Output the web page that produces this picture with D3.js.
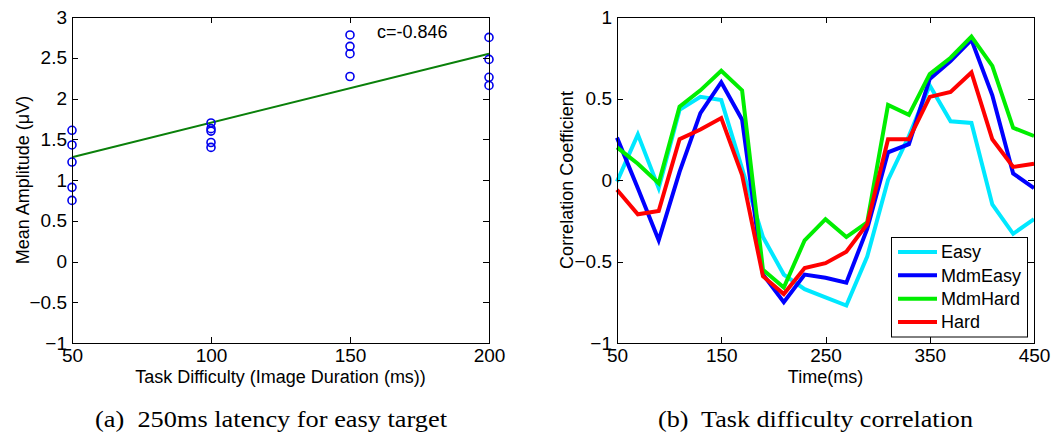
<!DOCTYPE html>
<html>
<head>
<meta charset="utf-8">
<script src="https://cdn.jsdelivr.net/npm/d3@7"></script>
<style>
  html, body { margin: 0; padding: 0; background: #fff; }
  svg { display: block; }
  .axis text { font-family: "Liberation Sans", Arial, sans-serif; font-size: 19px; fill: #000; }
  .axis path, .axis line { stroke: #000; stroke-width: 1; shape-rendering: crispEdges; }
  .label { font-family: "Liberation Sans", Arial, sans-serif; font-size: 18px; fill: #000; }
  .caption { font-family: "Liberation Serif", "Times New Roman", serif; font-size: 23px; fill: #000; }
</style>
</head>
<body>
<svg id="fig" width="1053" height="433"></svg>
<script>
// ---- Panel (a): mean amplitude versus image duration ----
const amplitudeX = [50, 50, 50, 50, 50,
                    100, 100, 100, 100, 100,
                    150, 150, 150, 150,
                    200, 200, 200, 200];
const amplitudeY = [1.61, 1.43, 1.22, 0.91, 0.75,
                    1.70, 1.63, 1.60, 1.46, 1.40,
                    2.78, 2.64, 2.55, 2.27,
                    2.75, 2.48, 2.26, 2.16];
const fitX = [50, 200];
const fitY = [1.28, 2.55];
const durationTicks = [50, 100, 150, 200];
const amplitudeTicks = [-1, -0.5, 0, 0.5, 1, 1.5, 2, 2.5, 3];
const correlationNote = "c=-0.846";

// ---- Panel (b): correlation coefficient over time ----
const timeMs = [50, 70, 90, 110, 130, 150, 170, 190, 210, 230, 250,
                270, 290, 310, 330, 350, 370, 390, 410, 430, 450];
const easy     = [-0.01, 0.28, -0.05, 0.43, 0.51, 0.49, 0.07, -0.35, -0.58, -0.67, -0.72,
                  -0.77, -0.47, 0.00, 0.27, 0.58, 0.36, 0.35, -0.15, -0.33, -0.24];
const mdmEasy  = [0.26, -0.05, -0.37, 0.05, 0.41, 0.60, 0.37, -0.58, -0.75, -0.58, -0.60,
                  -0.63, -0.30, 0.17, 0.22, 0.62, 0.73, 0.86, 0.52, 0.04, -0.05];
const mdmHard  = [0.20, 0.10, -0.02, 0.45, 0.55, 0.67, 0.55, -0.55, -0.66, -0.37, -0.24,
                  -0.35, -0.26, 0.46, 0.40, 0.65, 0.75, 0.88, 0.70, 0.32, 0.27];
const hard     = [-0.06, -0.21, -0.19, 0.25, 0.31, 0.38, 0.03, -0.59, -0.70, -0.54, -0.51,
                  -0.44, -0.27, 0.25, 0.25, 0.51, 0.54, 0.66, 0.25, 0.08, 0.10];
const seriesNames = ["Easy", "MdmEasy", "MdmHard", "Hard"];
const seriesColors = ["#00e8ff", "#0000ff", "#00ee00", "#ff0000"];
const timeTicks = [50, 150, 250, 350, 450];
const corrTicks = [-1, -0.5, 0, 0.5, 1];

const svg = d3.select("#fig");
const TICK = 6;

function drawBox(g, x, y, xTicks, yTicks) {
  const [x0, x1] = x.range();
  const [y1, y0] = y.range();
  g.append("g").attr("class", "axis")
    .attr("transform", `translate(0,${y1})`)
    .call(d3.axisBottom(x).tickValues(xTicks).tickSizeInner(-TICK).tickSizeOuter(0)
      .tickPadding(6).tickFormat(d3.format("d")));
  g.append("g").attr("class", "axis")
    .attr("transform", `translate(0,${y0})`)
    .call(d3.axisTop(x).tickValues(xTicks).tickSizeInner(-TICK).tickSizeOuter(0).tickFormat(""));
  g.append("g").attr("class", "axis")
    .attr("transform", `translate(${x0},0)`)
    .call(d3.axisLeft(y).tickValues(yTicks).tickSizeInner(-TICK).tickSizeOuter(0)
      .tickPadding(5).tickFormat(d3.format("")));
  g.append("g").attr("class", "axis")
    .attr("transform", `translate(${x1},0)`)
    .call(d3.axisRight(y).tickValues(yTicks).tickSizeInner(-TICK).tickSizeOuter(0).tickFormat(""));
}

// ---- Panel (a) ----
{
  const g = svg.append("g");
  const x = d3.scaleLinear().domain([50, 200]).range([72, 489]);
  const y = d3.scaleLinear().domain([-1, 3]).range([343, 17]);

  g.append("rect").attr("x", 72).attr("y", 17).attr("width", 417).attr("height", 326).attr("fill", "#fff");

  g.append("path")
    .datum(fitX.map((v, i) => [v, fitY[i]]))
    .attr("fill", "none").attr("stroke", "#0a800a").attr("stroke-width", 2)
    .attr("d", d3.line().x(d => x(d[0])).y(d => y(d[1])));

  g.selectAll("circle.pt")
    .data(amplitudeX.map((v, i) => [v, amplitudeY[i]]))
    .join("circle").attr("class", "pt")
    .attr("cx", d => x(d[0])).attr("cy", d => y(d[1])).attr("r", 4)
    .attr("fill", "none").attr("stroke", "#0000ee").attr("stroke-width", 1.6);

  drawBox(g, x, y, durationTicks, amplitudeTicks);

  g.append("text").attr("class", "label").attr("x", 377).attr("y", 38).text(correlationNote);

  g.append("text").attr("class", "label")
    .attr("x", x(125)).attr("y", 383).attr("text-anchor", "middle")
    .text("Task Difficulty (Image Duration (ms))");
  g.append("text").attr("class", "label")
    .attr("transform", `translate(29,${y(1)}) rotate(-90)`).attr("text-anchor", "middle")
    .text("Mean Amplitude (μV)");

  g.append("text").attr("class", "caption")
    .attr("x", 95).attr("y", 427)
    .attr("textLength", 352).attr("lengthAdjust", "spacingAndGlyphs")
    .attr("xml:space", "preserve")
    .text("(a)  250ms latency for easy target");
}

// ---- Panel (b) ----
{
  const g = svg.append("g");
  const x = d3.scaleLinear().domain([50, 450]).range([617, 1034]);
  const y = d3.scaleLinear().domain([-1, 1]).range([343, 17]);
  const values = [easy, mdmEasy, mdmHard, hard];

  const line = d3.line().x((d, i) => x(timeMs[i])).y(d => y(d));
  g.selectAll("path.series")
    .data(values)
    .join("path").attr("class", "series")
    .attr("fill", "none")
    .attr("stroke", (d, i) => seriesColors[i])
    .attr("stroke-width", 4)
    .attr("stroke-linejoin", "miter")
    .attr("d", line);

  drawBox(g, x, y, timeTicks, corrTicks);

  g.append("text").attr("class", "label")
    .attr("x", x(250)).attr("y", 383).attr("text-anchor", "middle")
    .text("Time(ms)");
  g.append("text").attr("class", "label")
    .attr("transform", `translate(573,${y(0)}) rotate(-90)`).attr("text-anchor", "middle")
    .text("Correlation Coefficient");

  // legend
  const lg = g.append("g");
  lg.append("rect").attr("x", 891.5).attr("y", 237.5).attr("width", 136).attr("height", 99.5)
    .attr("fill", "#fff").attr("stroke", "#000").attr("stroke-width", 1);
  const rowY = d3.scalePoint().domain(seriesNames).range([252, 322]);
  seriesNames.forEach((name, i) => {
    lg.append("line")
      .attr("x1", 898).attr("x2", 937)
      .attr("y1", rowY(name)).attr("y2", rowY(name))
      .attr("stroke", seriesColors[i]).attr("stroke-width", 4);
    lg.append("text").attr("class", "label")
      .attr("x", 941).attr("y", rowY(name)).attr("dy", "0.35em")
      .text(name);
  });

  g.append("text").attr("class", "caption")
    .attr("x", 658).attr("y", 427)
    .attr("textLength", 315).attr("lengthAdjust", "spacingAndGlyphs")
    .attr("xml:space", "preserve")
    .text("(b)  Task difficulty correlation");
}
</script>
</body>
</html>
